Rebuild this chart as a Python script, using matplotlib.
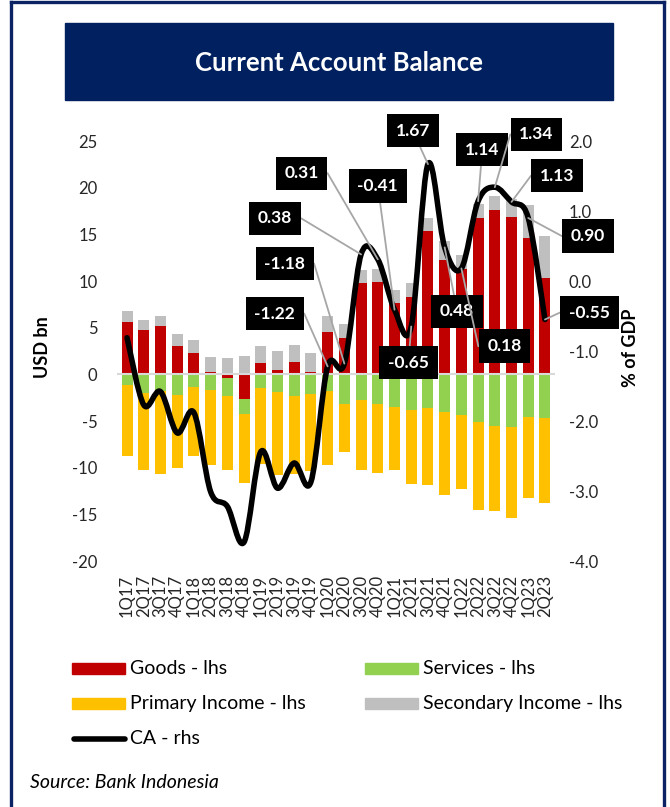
import numpy as np
import matplotlib.pyplot as plt
from matplotlib.patches import Rectangle, PathPatch
from matplotlib.path import Path
from matplotlib.lines import Line2D
from matplotlib.ticker import FormatStrFormatter

plt.rcParams['font.family'] = ['Lato', 'DejaVu Sans']
plt.rcParams['axes.unicode_minus'] = False

# Datos (USD bn, lhs) y CA (% of GDP, rhs)
quarters = ['1Q17', '2Q17', '3Q17', '4Q17', '1Q18', '2Q18', '3Q18', '4Q18',
            '1Q19', '2Q19', '3Q19', '4Q19', '1Q20', '2Q20', '3Q20', '4Q20',
            '1Q21', '2Q21', '3Q21', '4Q21', '1Q22', '2Q22', '3Q22', '4Q22',
            '1Q23', '2Q23']
goods = [5.6, 4.7, 5.2, 3.0, 2.3, 0.3, -0.4, -2.6, 1.2, 0.5, 1.3, 0.3, 4.5,
         3.9, 9.8, 9.9, 7.6, 8.3, 15.4, 12.3, 11.3, 16.8, 17.6, 16.9, 14.6, 10.3]
services = [-1.1, -2.0, -1.8, -2.2, -1.4, -1.7, -1.9, -1.6, -1.5, -1.9, -2.3,
            -2.1, -1.8, -3.2, -2.8, -3.2, -3.5, -3.8, -3.6, -4.0, -4.4, -5.1,
            -5.5, -5.6, -4.6, -4.7]
primary = [-7.6, -8.2, -8.9, -7.8, -7.3, -8.0, -7.9, -7.4, -8.1, -8.9, -8.4,
           -8.3, -7.9, -5.1, -7.5, -7.4, -6.8, -8.0, -8.3, -8.9, -7.9, -9.4,
           -9.1, -9.8, -8.6, -9.1]
secondary = [1.2, 1.1, 1.1, 1.3, 1.4, 1.6, 1.7, 2.0, 1.8, 2.0, 1.8, 2.0, 1.8,
             1.5, 1.4, 1.4, 1.4, 1.5, 1.4, 2.0, 1.5, 1.5, 1.5, 1.9, 3.5, 4.5]
ca = [-0.81, -1.77, -1.58, -2.17, -1.88, -3.01, -3.22, -3.73, -2.44, -2.96,
      -2.60, -2.87, -1.22, -1.18, 0.38, 0.31, -0.41, -0.65, 1.67, 0.48, 0.18,
      1.14, 1.34, 1.13, 0.90, -0.55]

# etiquetas: indice -> (dx, dy en puntos, lado del conector)
# lado: 'r' sale por la derecha con tramo horizontal, 'l' por la izquierda,
# None linea recta
label_offsets = {12: (-38, 38, 'r'), 13: (-43, 72, 'r'), 14: (-62, 26, 'r'),
                 15: (-55, 62, 'r'), 16: (-12, 89, None), 17: (-2, -26, None),
                 18: (-11, 24, None), 19: (9, -46, None), 20: (31, -56, 'l'),
                 21: (3, 37, None), 22: (30, 38, 'l'), 23: (33, 19, 'l'),
                 24: (43, -13, 'l'), 25: (32, 5, 'l')}

W, H = 670, 807
NAVY = '#0B2364'


def fx(px):
    return px / W


def fy(py):
    return 1 - py / H


def smooth_path(xs, ys):
    # curva suave tipo Excel (Catmull-Rom como Bezier)
    pts = np.column_stack([xs, ys])
    n = len(pts)
    verts = [pts[0]]
    codes = [Path.MOVETO]
    for i in range(n - 1):
        p0 = pts[max(i - 1, 0)]
        p1 = pts[i]
        p2 = pts[i + 1]
        p3 = pts[min(i + 2, n - 1)]
        verts += [p1 + (p2 - p0) / 6, p2 - (p3 - p1) / 6, p2]
        codes += [Path.CURVE4] * 3
    return Path(verts, codes)


fig = plt.figure(figsize=(W / 100, H / 100), dpi=100)
ax = fig.add_axes([fx(117), fy(561), (555 - 117) / W, (561 - 141) / H])
ax2 = ax.twinx()

x = np.arange(len(quarters))
g = np.array(goods)
s = np.array(services)
pos_base = np.where(g > 0, g, 0)
neg_base = np.where(g < 0, g, 0)
bw = 0.66
ax.bar(x, g, bw, color='#C00000', zorder=2)
ax.bar(x, secondary, bw, bottom=pos_base, color='#BFBFBF', zorder=2)
ax.bar(x, s, bw, bottom=neg_base, color='#92D050', zorder=2)
ax.bar(x, primary, bw, bottom=neg_base + s, color='#FFC000', zorder=2)
ax.axhline(0, color='#D9D9D9', lw=1.5, zorder=3)

ax2.add_patch(PathPatch(smooth_path(x, ca), fill=False, lw=4, ec='black',
                        capstyle='round', joinstyle='round', zorder=3))

for i, (dx, dy, side) in label_offsets.items():
    arrow = dict(arrowstyle='-', color='#A6A6A6', lw=1.3, shrinkA=0, shrinkB=0)
    if side == 'r':
        arrow.update(relpos=(1, 0.5),
                     connectionstyle='arc,angleA=0,angleB=0,armA=9,armB=0,rad=0')
    elif side == 'l':
        arrow.update(relpos=(0, 0.5),
                     connectionstyle='arc,angleA=180,angleB=0,armA=9,armB=0,rad=0')
    ax2.annotate(f'{ca[i]:.2f}', (x[i], ca[i]), xytext=(dx, dy),
                 textcoords='offset points', ha='center', va='center',
                 color='white', fontsize=12.5, fontweight='bold', zorder=6,
                 bbox=dict(boxstyle='square,pad=0.5', fc='black', ec='none'),
                 arrowprops=arrow)

ax.set_xlim(-0.6, 25.6)
ax.set_ylim(-20, 25)
ax2.set_ylim(-4, 2)
ax.set_yticks(range(-20, 30, 5))
ax2.set_yticks(np.arange(-4, 2.1, 1))
ax2.yaxis.set_major_formatter(FormatStrFormatter('%.1f'))
ax.set_xticks(x, quarters, rotation=90)
for a in (ax, ax2):
    for sp in a.spines.values():
        sp.set_visible(False)
ax.tick_params(axis='y', length=0, pad=14, labelsize=12, labelcolor='#262626')
ax.tick_params(axis='x', length=0, pad=10, labelsize=12, labelcolor='#262626')
ax2.tick_params(axis='y', length=0, pad=10, labelsize=12, labelcolor='#262626')

fig.text(fx(43), fy(347), 'USD bn', rotation=90, ha='center', va='center',
         fontsize=13, fontweight='bold')
fig.text(fx(630), fy(348), '% of GDP', rotation=90, ha='center', va='center',
         fontsize=13, fontweight='bold')

# marco y titulo
fig.add_artist(Rectangle((fx(65), fy(100)), (613 - 65) / W, 77 / H,
                         transform=fig.transFigure, color='#002060'))
fig.text(fx(339), fy(63), 'Current Account Balance', color='white',
         fontsize=18.5, fontweight='bold', ha='center', va='center')
for xs, ys in [([11, 11], [807, 2]), ([11, 664], [2, 2]), ([664, 664], [2, 807])]:
    fig.add_artist(Line2D([fx(v) for v in xs], [fy(v) for v in ys],
                          transform=fig.transFigure, color=NAVY, lw=2.4))

# leyenda
legend_items = [('Goods - lhs', '#C00000', 72, 668),
                ('Services - lhs', '#92D050', 365, 668),
                ('Primary Income - lhs', '#FFC000', 72, 703),
                ('Secondary Income - lhs', '#BFBFBF', 365, 703)]
for name, col, px, py in legend_items:
    fig.add_artist(Rectangle((fx(px), fy(py + 5.5)), 53 / W, 11 / H,
                             transform=fig.transFigure, color=col))
    fig.text(fx(px + 58), fy(py), name, fontsize=14, va='center')
fig.add_artist(Line2D([fx(74), fx(125)], [fy(739), fy(739)],
                      transform=fig.transFigure, color='black', lw=4,
                      solid_capstyle='round'))
fig.text(fx(130), fy(739), 'CA - rhs', fontsize=14, va='center')
fig.text(fx(30), fy(783), 'Source: Bank Indonesia', fontsize=14,
         style='italic', va='center')

fig.savefig('out.png', dpi=100)
